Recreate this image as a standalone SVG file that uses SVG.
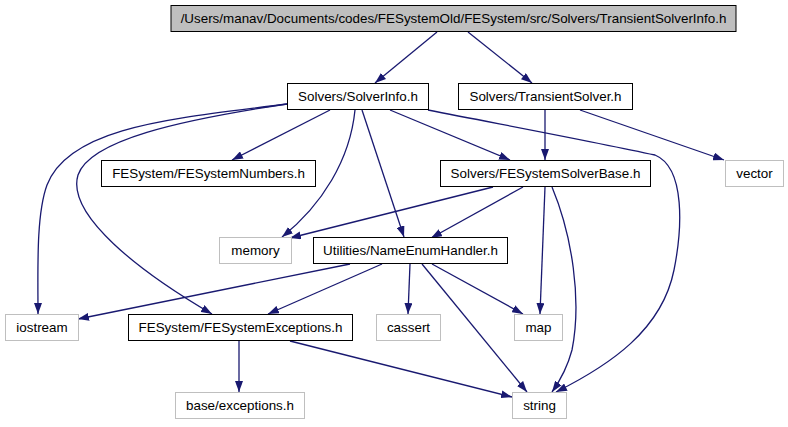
<svg xmlns="http://www.w3.org/2000/svg" width="788" height="427" viewBox="0 0 788 427">
<style>
.n rect{fill:#fff;stroke:#000;stroke-width:1}
.x rect{fill:#fff;stroke:#bfbfbf;stroke-width:1}
.t rect{fill:#bfbfbf;stroke:#000;stroke-width:1}
text{font-family:"Liberation Sans",Arial,sans-serif;font-size:13.4px;fill:#000;text-anchor:middle}
#edges path{fill:none;stroke:#191970;stroke-width:1.3;marker-end:url(#ah)}
</style>
<defs>
<marker id="ah" markerUnits="userSpaceOnUse" markerWidth="11" markerHeight="8" refX="11" refY="4" orient="auto">
<path d="M0,0 L11,4 L0,8 z" fill="#191970" stroke="none"/>
</marker>
</defs>
<rect width="788" height="427" fill="#fff"/>
<g id="edges">
<path d="M437,32 L375,83"/>
<path d="M468,32 L532,83"/>
<path d="M287,104 C180,118 70,125 47,185 C36,215 38,270 38,314"/>
<path d="M287,104 C180,120 90,140 78,175 C66,215 140,272 212,314"/>
<path d="M330,110 L232,160"/>
<path d="M355,110 C350,160 322,205 282,237"/>
<path d="M362,110 L404,237"/>
<path d="M390,110 L510,160"/>
<path d="M428,110 C520,128 600,143 655,155 C686,168 682,230 674,270 C662,330 610,365 556,392"/>
<path d="M545,110 L545,160"/>
<path d="M580,110 L724,160"/>
<path d="M493,187 L290,238"/>
<path d="M523,187 L431,238"/>
<path d="M545,187 L540,314"/>
<path d="M552,187 C572,235 582,300 572,350 C568,365 562,378 552,392"/>
<path d="M350,264 L78,319"/>
<path d="M382,264 L268,314"/>
<path d="M410,264 L408,314"/>
<path d="M432,264 L523,314"/>
<path d="M422,264 L527,392"/>
<path d="M239,341 L239,392"/>
<path d="M290,341 L512,397"/>
</g>
<g id="top" class="t"><rect x="171" y="5.5" width="565" height="26"/><text x="453.5" y="23">/Users/manav/Documents/codes/FESystemOld/FESystem/src/Solvers/TransientSolverInfo.h</text></g>
<g id="solverinfo" class="n"><rect x="287.5" y="83.5" width="141" height="26"/><text x="358" y="101">Solvers/SolverInfo.h</text></g>
<g id="transientsolver" class="n"><rect x="458.5" y="83.5" width="174" height="26"/><text x="545.5" y="101">Solvers/TransientSolver.h</text></g>
<g id="numbers" class="n"><rect x="101.5" y="160.5" width="214" height="26"/><text x="208.5" y="178">FESystem/FESystemNumbers.h</text></g>
<g id="solverbase" class="n"><rect x="440.5" y="160.5" width="210" height="26"/><text x="545.5" y="178">Solvers/FESystemSolverBase.h</text></g>
<g id="vector" class="x"><rect x="725.5" y="160.5" width="58" height="26"/><text x="754.5" y="178">vector</text></g>
<g id="memory" class="x"><rect x="219.5" y="237.5" width="72" height="26"/><text x="255.5" y="255">memory</text></g>
<g id="nameenum" class="n"><rect x="313.5" y="237.5" width="194" height="26"/><text x="410.5" y="255">Utilities/NameEnumHandler.h</text></g>
<g id="iostream" class="x"><rect x="5.5" y="314.5" width="73" height="26"/><text x="42" y="332">iostream</text></g>
<g id="exceptions" class="n"><rect x="128.5" y="314.5" width="224" height="26"/><text x="240.5" y="332">FESystem/FESystemExceptions.h</text></g>
<g id="cassert" class="x"><rect x="376.5" y="314.5" width="64" height="26"/><text x="408.5" y="332">cassert</text></g>
<g id="map" class="x"><rect x="514.5" y="314.5" width="48" height="26"/><text x="538.5" y="332">map</text></g>
<g id="baseexceptions" class="x"><rect x="175.5" y="392.5" width="129" height="26"/><text x="240" y="410">base/exceptions.h</text></g>
<g id="string" class="x"><rect x="512.5" y="392.5" width="54" height="26"/><text x="539.5" y="410">string</text></g>
</svg>
